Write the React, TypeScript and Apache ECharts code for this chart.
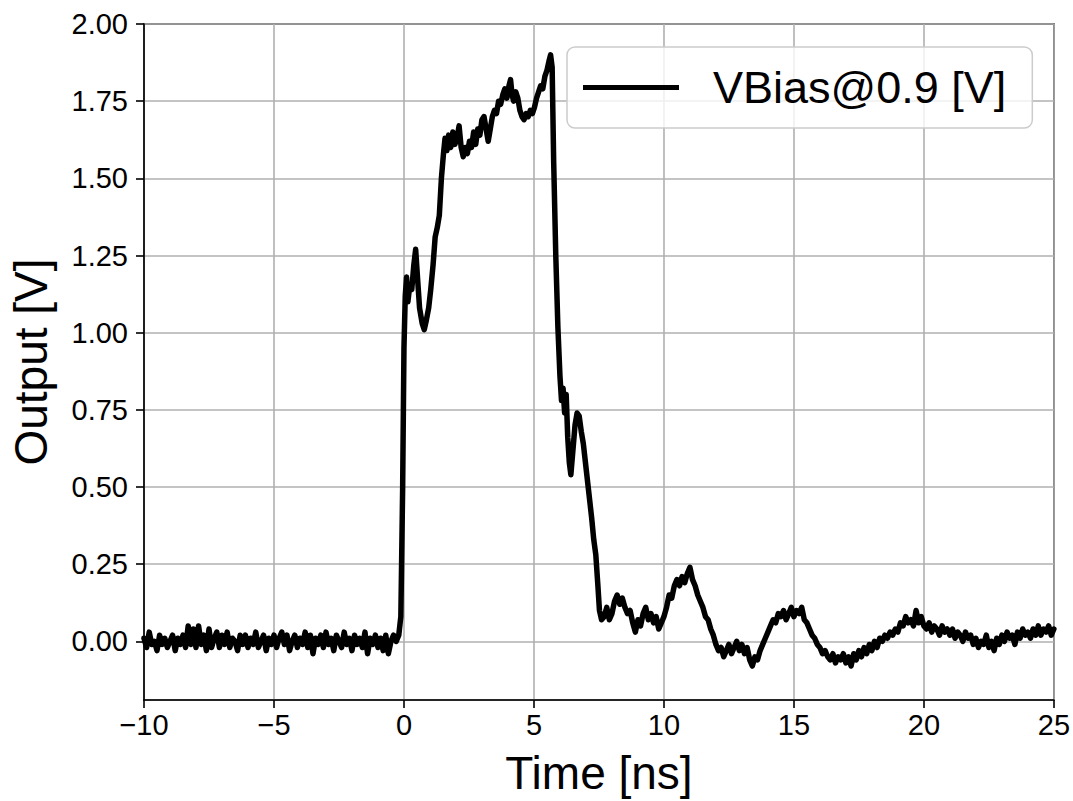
import React, { useEffect, useRef } from "react";
import * as echarts from "echarts";

const SERIES_NAME = "VBias@0.9 [V]";
const X_LABEL = "Time [ns]";
const Y_LABEL = "Output [V]";

const X_MIN = -10;
const X_MAX = 25;
const X_STEP = 5;
const Y_MIN = -0.19;
const Y_MAX = 2.0;
const Y_STEP = 0.25;

// Baseline before the pulse: t = -10.0 ... -0.3 ns, sampled every 0.1 ns
const baselineStart = -10.0;
const baselineStep = 0.1;
const baselineV = [
  0.01, -0.02, 0.03, -0.01, 0.0, -0.03, 0.02, -0.01, 0.01, -0.02,
  0.0, 0.02, -0.03, 0.01, -0.01, 0.02, -0.02, 0.05, -0.01, 0.04,
  -0.02, 0.05, -0.01, 0.02, -0.03, 0.04, -0.02, 0.01, 0.03, -0.02,
  0.02, -0.01, 0.03, -0.02, 0.01, 0.0, -0.03, 0.02, -0.01, 0.02,
  -0.02, 0.01, -0.01, 0.03, -0.02, 0.0, 0.02, -0.03, 0.01, -0.01,
  0.02, -0.02, 0.01, 0.03, -0.01, 0.02, -0.03, 0.0, 0.02, -0.02,
  0.01, -0.01, 0.03, -0.02, 0.02, -0.04, 0.01, -0.01, 0.02, -0.02,
  0.03, -0.01, 0.01, -0.03, 0.02, 0.0, -0.02, 0.03, -0.01, 0.01,
  -0.03, 0.02, -0.01, 0.01, -0.02, 0.03, -0.04, 0.01, -0.01, 0.02,
  -0.02, 0.01, -0.03, 0.02, -0.04, 0.0, 0.02, 0.0,
];

// Pulse: rise, plateau and fall (irregular sampling)
const pulseT = [
  -0.2, -0.12, -0.05, 0.0, 0.05, 0.1, 0.15, 0.22, 0.3, 0.38,
  0.45, 0.52, 0.6, 0.7, 0.78, 0.86, 0.95, 1.03, 1.12, 1.2,
  1.28, 1.36, 1.44, 1.52, 1.58, 1.65, 1.72, 1.8, 1.88, 1.96,
  2.04, 2.12, 2.2, 2.28, 2.36, 2.44, 2.52, 2.6, 2.68, 2.76,
  2.84, 2.92, 3.0, 3.08, 3.16, 3.24, 3.32, 3.4, 3.48, 3.56,
  3.64, 3.72, 3.8, 3.88, 3.96, 4.04, 4.1, 4.16, 4.22, 4.3,
  4.38, 4.46, 4.54, 4.62, 4.7, 4.78, 4.86, 4.94, 5.02, 5.1,
  5.18, 5.26, 5.34, 5.42, 5.5, 5.58, 5.64, 5.7, 5.76, 5.84,
  5.92, 6.0, 6.06, 6.12, 6.18, 6.24, 6.3, 6.36, 6.42, 6.5,
  6.58, 6.66, 6.74, 6.82, 6.9, 6.98, 7.06, 7.14, 7.22, 7.3,
  7.38, 7.46, 7.52, 7.6,
];
const pulseV = [
  0.02, 0.08, 0.5, 0.95, 1.12, 1.18, 1.1, 1.15, 1.14, 1.22,
  1.27, 1.18, 1.08, 1.03, 1.01, 1.04, 1.08, 1.14, 1.22, 1.31,
  1.34, 1.38, 1.5, 1.58, 1.63, 1.59, 1.64, 1.6, 1.65, 1.61,
  1.63, 1.67, 1.6, 1.57, 1.6, 1.58, 1.62, 1.6, 1.65, 1.61,
  1.66, 1.64, 1.69, 1.7, 1.66, 1.62, 1.66, 1.7, 1.72, 1.71,
  1.75, 1.74, 1.77, 1.79, 1.76, 1.8, 1.82, 1.77, 1.75, 1.78,
  1.76, 1.72, 1.7, 1.69, 1.71, 1.7, 1.72, 1.71, 1.73, 1.76,
  1.78, 1.8, 1.79, 1.83, 1.85, 1.88, 1.9, 1.86, 1.55, 1.25,
  1.02, 0.86, 0.78, 0.82, 0.74, 0.8, 0.66, 0.58, 0.54, 0.62,
  0.7, 0.74, 0.73, 0.68, 0.64, 0.58, 0.52, 0.46, 0.4, 0.33,
  0.28, 0.18, 0.1, 0.07,
];

// Ringing and tail: t = 7.7 ... 25.0 ns, sampled every 0.1 ns
const ringStart = 7.7;
const ringStep = 0.1;
const ringV = [
  0.08, 0.11, 0.07,
  0.09, 0.13, 0.15, 0.12, 0.14, 0.11, 0.09, 0.1, 0.06, 0.03,
  0.07, 0.05, 0.09, 0.11, 0.07, 0.09, 0.06, 0.08, 0.04, 0.06,
  0.08, 0.11, 0.15, 0.14, 0.18, 0.2, 0.18, 0.21, 0.19, 0.22,
  0.24, 0.2, 0.18, 0.15, 0.13, 0.11, 0.08, 0.07, 0.04, 0.02,
  -0.01, -0.03, -0.02, -0.05, -0.03, -0.01, -0.04, -0.02, 0.0, -0.03,
  -0.01, -0.04, -0.02, -0.06, -0.08, -0.05, -0.06, -0.03, -0.01, 0.01,
  0.03, 0.05, 0.07, 0.06, 0.09, 0.08, 0.1, 0.07, 0.09, 0.11,
  0.08, 0.1, 0.09, 0.11, 0.07, 0.06, 0.04, 0.02, 0.01, -0.01,
  -0.02, -0.04, -0.03, -0.05, -0.06, -0.04, -0.07, -0.05, -0.06, -0.04,
  -0.07, -0.05, -0.08, -0.04, -0.06, -0.03, -0.05, -0.02, -0.04, -0.01,
  -0.03, 0.0, -0.02, 0.01, 0.0, 0.02, 0.01, 0.03, 0.02, 0.04,
  0.03, 0.06, 0.05, 0.08, 0.06, 0.07, 0.05, 0.1, 0.06, 0.08,
  0.05, 0.04, 0.06, 0.03, 0.05, 0.04, 0.02, 0.05, 0.03, 0.04,
  0.02, 0.04, 0.01, 0.03, 0.02, 0.0, 0.03, 0.01, 0.02, -0.01,
  0.01, -0.02, 0.0, -0.01, 0.02, -0.02, 0.0, -0.03, 0.01, -0.01,
  0.02, 0.0, 0.03, 0.01, 0.02, -0.01, 0.03, 0.01, 0.04, 0.02,
  0.03, 0.01, 0.04, 0.02, 0.05, 0.02, 0.04, 0.03, 0.05, 0.02,
  0.04,
];

const FONT = "'Liberation Sans', Arial, Helvetica, sans-serif";

function sampled(start: number, step: number, values: number[]): [number, number][] {
  return values.map((v, i) => [Math.round((start + i * step) * 1000) / 1000, v]);
}

export default function App() {
  const ref = useRef<HTMLDivElement>(null);

  useEffect(() => {
    if (!ref.current) return;
    const chart = echarts.init(ref.current, undefined, { renderer: "svg" });

    const data: [number, number][] = [
      ...sampled(baselineStart, baselineStep, baselineV),
      ...pulseT.map((t, i) => [t, pulseV[i]] as [number, number]),
      ...sampled(ringStart, ringStep, ringV),
    ];

    chart.setOption({
      animation: false,
      backgroundColor: "#ffffff",
      textStyle: { fontFamily: FONT },
      grid: {
        left: 143,
        right: 19,
        top: 24,
        bottom: 99,
        show: true,
        borderColor: "#000000",
        borderWidth: 1.6,
        backgroundColor: "transparent",
        containLabel: false,
      },
      legend: {
        show: true,
        data: [SERIES_NAME],
        left: 567,
        top: 47,
        padding: [18, 26, 18, 16],
        backgroundColor: "rgba(255,255,255,0.8)",
        borderColor: "#cccccc",
        borderWidth: 1.5,
        borderRadius: 8,
        icon: "rect",
        itemWidth: 96,
        itemHeight: 5,
        selectedMode: false,
        itemStyle: { color: "#000000", borderWidth: 0 },
        textStyle: {
          fontSize: 45,
          color: "#000000",
          fontFamily: FONT,
          padding: [0, 0, 0, 29],
        },
      },
      xAxis: {
        type: "value",
        min: X_MIN,
        max: X_MAX,
        interval: X_STEP,
        name: X_LABEL,
        nameLocation: "middle",
        nameGap: 50,
        nameTextStyle: { fontSize: 46, color: "#000000", fontFamily: FONT },
        axisLine: { show: true, onZero: false, lineStyle: { color: "#000000", width: 1.6 } },
        axisTick: { show: true, inside: false, length: 8, lineStyle: { color: "#000000", width: 1.6 } },
        axisLabel: {
          fontSize: 29,
          color: "#000000",
          fontFamily: FONT,
          margin: 10,
          formatter: (v: number) => String(v).replace("-", "\u2212"),
        },
        splitLine: { show: true, lineStyle: { color: "#b0b0b0", width: 1.6 } },
      },
      yAxis: {
        type: "value",
        min: Y_MIN,
        max: Y_MAX,
        minInterval: Y_STEP,
        maxInterval: Y_STEP,
        splitNumber: 9,
        name: Y_LABEL,
        nameLocation: "middle",
        nameRotate: 90,
        nameGap: 90,
        nameTextStyle: { fontSize: 46, color: "#000000", fontFamily: FONT },
        axisLine: { show: true, onZero: false, lineStyle: { color: "#000000", width: 1.6 } },
        axisTick: { show: true, inside: false, length: 8, lineStyle: { color: "#000000", width: 1.6 } },
        axisLabel: {
          fontSize: 29,
          color: "#000000",
          fontFamily: FONT,
          margin: 16,
          showMinLabel: false,
          formatter: (v: number) => (v < -0.001 ? "" : v.toFixed(2)),
        },
        splitLine: { show: true, lineStyle: { color: "#b0b0b0", width: 1.6 } },
      },
      series: [
        {
          name: SERIES_NAME,
          type: "line",
          data,
          showSymbol: false,
          symbol: "none",
          smooth: false,
          clip: true,
          lineStyle: { color: "#000000", width: 5.5, join: "round", cap: "round" },
          itemStyle: { color: "#000000" },
        },
      ],
    });

    return () => chart.dispose();
  }, []);

  return (
    <div
      ref={ref}
      style={{ position: "absolute", left: 0, top: 0, width: 1073, height: 801, background: "#ffffff" }}
    />
  );
}
